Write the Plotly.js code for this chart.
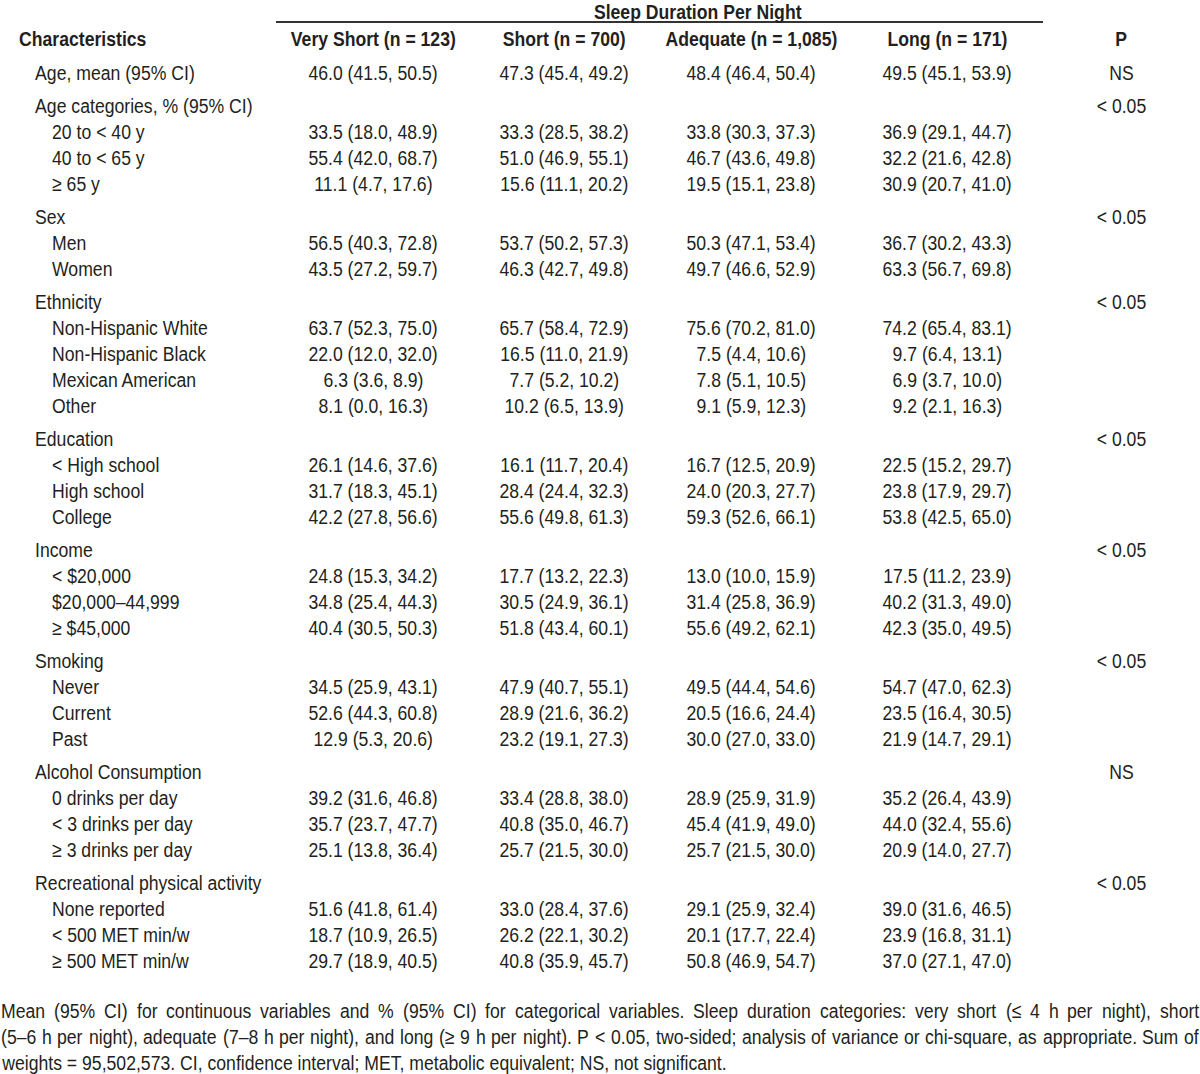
<!DOCTYPE html>
<html>
<head>
<meta charset="utf-8">
<script src="https://cdn.plot.ly/plotly-3.0.1.min.js"></script>
<style>html,body{margin:0;padding:0;background:#fff}#chart{width:1200px;height:1074px}</style>
</head>
<body>
<div id="chart"></div>
<script>
// ---------- DATA ----------
const spanner = "Sleep Duration Per Night";
const columnHeaders = ["Characteristics", "Very Short (n = 123)", "Short (n = 700)", "Adequate (n = 1,085)", "Long (n = 171)", "P"];

const characteristics = [
  "Age, mean (95% CI)",
  "Age categories, % (95% CI)", "20 to < 40 y", "40 to < 65 y", "≥ 65 y",
  "Sex", "Men", "Women",
  "Ethnicity", "Non-Hispanic White", "Non-Hispanic Black", "Mexican American", "Other",
  "Education", "< High school", "High school", "College",
  "Income", "< $20,000", "$20,000–44,999", "≥ $45,000",
  "Smoking", "Never", "Current", "Past",
  "Alcohol Consumption", "0 drinks per day", "< 3 drinks per day", "≥ 3 drinks per day",
  "Recreational physical activity", "None reported", "< 500 MET min/w", "≥ 500 MET min/w"
];
const isGroupHeader = [
  true,
  true, false, false, false,
  true, false, false,
  true, false, false, false, false,
  true, false, false, false,
  true, false, false, false,
  true, false, false, false,
  true, false, false, false,
  true, false, false, false
];
const veryShort = [
  "46.0 (41.5, 50.5)",
  "", "33.5 (18.0, 48.9)", "55.4 (42.0, 68.7)", "11.1 (4.7, 17.6)",
  "", "56.5 (40.3, 72.8)", "43.5 (27.2, 59.7)",
  "", "63.7 (52.3, 75.0)", "22.0 (12.0, 32.0)", "6.3 (3.6, 8.9)", "8.1 (0.0, 16.3)",
  "", "26.1 (14.6, 37.6)", "31.7 (18.3, 45.1)", "42.2 (27.8, 56.6)",
  "", "24.8 (15.3, 34.2)", "34.8 (25.4, 44.3)", "40.4 (30.5, 50.3)",
  "", "34.5 (25.9, 43.1)", "52.6 (44.3, 60.8)", "12.9 (5.3, 20.6)",
  "", "39.2 (31.6, 46.8)", "35.7 (23.7, 47.7)", "25.1 (13.8, 36.4)",
  "", "51.6 (41.8, 61.4)", "18.7 (10.9, 26.5)", "29.7 (18.9, 40.5)"
];
const shortSleep = [
  "47.3 (45.4, 49.2)",
  "", "33.3 (28.5, 38.2)", "51.0 (46.9, 55.1)", "15.6 (11.1, 20.2)",
  "", "53.7 (50.2, 57.3)", "46.3 (42.7, 49.8)",
  "", "65.7 (58.4, 72.9)", "16.5 (11.0, 21.9)", "7.7 (5.2, 10.2)", "10.2 (6.5, 13.9)",
  "", "16.1 (11.7, 20.4)", "28.4 (24.4, 32.3)", "55.6 (49.8, 61.3)",
  "", "17.7 (13.2, 22.3)", "30.5 (24.9, 36.1)", "51.8 (43.4, 60.1)",
  "", "47.9 (40.7, 55.1)", "28.9 (21.6, 36.2)", "23.2 (19.1, 27.3)",
  "", "33.4 (28.8, 38.0)", "40.8 (35.0, 46.7)", "25.7 (21.5, 30.0)",
  "", "33.0 (28.4, 37.6)", "26.2 (22.1, 30.2)", "40.8 (35.9, 45.7)"
];
const adequate = [
  "48.4 (46.4, 50.4)",
  "", "33.8 (30.3, 37.3)", "46.7 (43.6, 49.8)", "19.5 (15.1, 23.8)",
  "", "50.3 (47.1, 53.4)", "49.7 (46.6, 52.9)",
  "", "75.6 (70.2, 81.0)", "7.5 (4.4, 10.6)", "7.8 (5.1, 10.5)", "9.1 (5.9, 12.3)",
  "", "16.7 (12.5, 20.9)", "24.0 (20.3, 27.7)", "59.3 (52.6, 66.1)",
  "", "13.0 (10.0, 15.9)", "31.4 (25.8, 36.9)", "55.6 (49.2, 62.1)",
  "", "49.5 (44.4, 54.6)", "20.5 (16.6, 24.4)", "30.0 (27.0, 33.0)",
  "", "28.9 (25.9, 31.9)", "45.4 (41.9, 49.0)", "25.7 (21.5, 30.0)",
  "", "29.1 (25.9, 32.4)", "20.1 (17.7, 22.4)", "50.8 (46.9, 54.7)"
];
const longSleep = [
  "49.5 (45.1, 53.9)",
  "", "36.9 (29.1, 44.7)", "32.2 (21.6, 42.8)", "30.9 (20.7, 41.0)",
  "", "36.7 (30.2, 43.3)", "63.3 (56.7, 69.8)",
  "", "74.2 (65.4, 83.1)", "9.7 (6.4, 13.1)", "6.9 (3.7, 10.0)", "9.2 (2.1, 16.3)",
  "", "22.5 (15.2, 29.7)", "23.8 (17.9, 29.7)", "53.8 (42.5, 65.0)",
  "", "17.5 (11.2, 23.9)", "40.2 (31.3, 49.0)", "42.3 (35.0, 49.5)",
  "", "54.7 (47.0, 62.3)", "23.5 (16.4, 30.5)", "21.9 (14.7, 29.1)",
  "", "35.2 (26.4, 43.9)", "44.0 (32.4, 55.6)", "20.9 (14.0, 27.7)",
  "", "39.0 (31.6, 46.5)", "23.9 (16.8, 31.1)", "37.0 (27.1, 47.0)"
];
const pValues = [
  "NS",
  "< 0.05", "", "", "",
  "< 0.05", "", "",
  "< 0.05", "", "", "", "",
  "< 0.05", "", "", "",
  "< 0.05", "", "", "",
  "< 0.05", "", "", "",
  "NS", "", "", "",
  "< 0.05", "", "", ""
];
const footnoteLines = [
  "Mean (95% CI) for continuous variables and % (95% CI) for categorical variables. Sleep duration categories: very short (≤ 4 h per night), short",
  "(5–6 h per night), adequate (7–8 h per night), and long (≥ 9 h per night). P < 0.05, two-sided; analysis of variance or chi-square, as appropriate. Sum of",
  "weights = 95,502,573. CI, confidence interval; MET, metabolic equivalent; NS, not significant."
];

// ---------- LAYOUT / STYLE ----------
const FAMILY = '"Liberation Sans", Arial, sans-serif';
const SIZE = 21;
const SQUEEZE = 0.84;          // narrow (condensed) look of the original typeface
const COLOR = "#231f20";
const colX = [18, 373, 564, 751, 947, 1121];
const valueCols = [veryShort, shortSleep, adequate, longSleep, pValues];

// row positions: fixed pitch plus an extra gap before each group header
const rowY = [];
let gaps = 0;
characteristics.forEach((c, i) => {
  if (i > 0 && isGroupHeader[i]) gaps++;
  rowY.push(72 + i * 26 + gaps * 7);
});

const ann = [];
function add(text, x, y, anchor, bold) {
  ann.push({
    text: bold ? "<b>" + text + "</b>" : text,
    x: x, y: y, xref: "x", yref: "y",
    xanchor: anchor, yanchor: "middle",
    showarrow: false, borderpad: 0,
    font: { family: FAMILY, size: SIZE, color: COLOR }
  });
}

// spanner + headers
add(spanner, 697, 11, "center", true);
add(columnHeaders[0], colX[0], 38, "left", true);
for (let c = 1; c < columnHeaders.length; c++) add(columnHeaders[c], colX[c], 38, "center", true);

// body rows
characteristics.forEach((lab, i) => {
  add(lab, isGroupHeader[i] ? 34 : 51, rowY[i], "left", false);
  valueCols.forEach((col, c) => { if (col[i]) add(col[i], colX[c + 1], rowY[i], "center", false); });
});

// footnote: justified lines (first two), left-aligned last line
const canvas = document.createElement("canvas");
const ctx = canvas.getContext("2d");
ctx.font = SIZE + "px 'Liberation Sans'";
const footY = [1010, 1036, 1062];
const LEFT = 0, RIGHT = 1198;
const spaceW = ctx.measureText(" ").width * SQUEEZE;
footnoteLines.forEach((line, li) => {
  if (li === footnoteLines.length - 1) { add(line, LEFT, footY[li], "left", false); return; }
  const words = line.split(" ");
  const widths = words.map(w => ctx.measureText(w).width * SQUEEZE);
  const total = widths.reduce((a, b) => a + b, 0);
  const gap = Math.max(spaceW * 0.6, (RIGHT - LEFT - total) / (words.length - 1));
  let x = LEFT;
  words.forEach((w, k) => { add(w, x, footY[li], "left", false); x += widths[k] + gap; });
});

const layout = {
  width: 1200, height: 1074,
  margin: { l: 0, r: 0, t: 0, b: 0 },
  paper_bgcolor: "#ffffff", plot_bgcolor: "#ffffff",
  xaxis: { range: [0, 1200], visible: false, fixedrange: true },
  yaxis: { range: [1074, 0], visible: false, fixedrange: true },
  showlegend: false,
  annotations: ann,
  shapes: [{ type: "line", xref: "x", yref: "y", x0: 276, x1: 1043, y0: 22, y1: 22,
             line: { color: "#333333", width: 2 } }]
};

Plotly.newPlot("chart", [{ x: [], y: [], type: "scatter", mode: "markers", hoverinfo: "skip" }], layout,
  { staticPlot: true, displayModeBar: false }).then(gd => {
  gd.querySelectorAll("g.annotation").forEach(g => {
    const i = +g.getAttribute("data-index");
    const t = g.querySelector("text.annotation-text");
    if (!t || !ann[i]) return;
    t.style.transformBox = "fill-box";
    t.style.transformOrigin = ann[i].xanchor === "left" ? "left center" : "center center";
    t.style.transform = "scaleX(" + SQUEEZE + ")";
  });
});
</script>
</body>
</html>
